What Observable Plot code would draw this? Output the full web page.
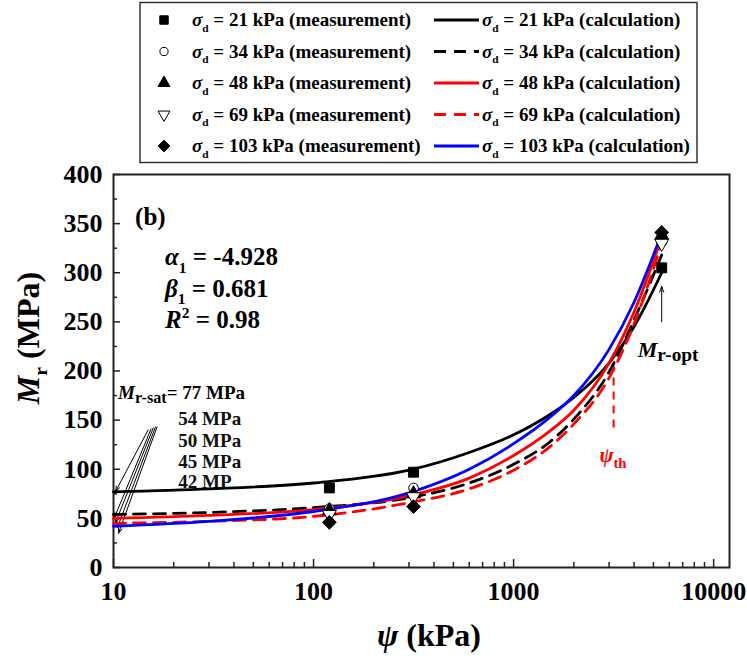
<!DOCTYPE html>
<html>
<head>
<meta charset="utf-8">
<script src="https://cdn.jsdelivr.net/npm/d3@7"></script>
<script src="https://cdn.jsdelivr.net/npm/@observablehq/plot@0.6"></script>
<style>
  html, body { margin: 0; padding: 0; background: #fff; }
  #wrap { position: relative; width: 747px; height: 659px; }
  #wrap svg { display: block; }
  #legend { position: absolute; left: 0; top: 0; pointer-events: none; }
</style>
</head>
<body>
<div id="wrap"></div>
<script>
// ---------- data ----------
const stressLabels = ["21", "34", "48", "69", "103"];

// calculation curves, read at these suction values (kPa)
const psiGrid = [10, 30, 100, 300, 600, 1000, 1500, 2000, 3000, 4000, 5500];
const calc21  = [77, 80, 86, 99, 117, 135, 155, 173, 208, 245, 300];
const calc34  = [54, 56, 61, 71, 86, 105, 127, 151, 199, 252, 318];
const calc48  = [50, 53, 59, 73, 91, 114, 138, 160, 208, 260, 336];
const calc69  = [45, 47, 52, 66, 80, 99, 122, 146, 193, 248, 330];
const calc103 = [42, 47, 57, 76, 100, 126, 152, 175, 222, 270, 340];

// measurements
const measPsi = [120, 316, 5500];
const meas21  = [81, 97, 305];
const meas34  = [60, 81, 331];
const meas48  = [58, 75, 338];
const meas69  = [54, 72, 330];
const meas103 = [46, 62, 341];

const satLabels = ["77 MPa", "54 MPa", "50 MPa", "45 MPa", "42 MP"];
const fitParams = ["-4.928", "0.681", "0.98"];

const xTicks = [10, 100, 1000, 10000];
const xMinor = [20,30,40,50,60,70,80,90,200,300,400,500,600,700,800,900,2000,3000,4000,5000,6000,7000,8000,9000];
const yTicks = [0, 50, 100, 150, 200, 250, 300, 350, 400];
const yMinor = [25, 75, 125, 175, 225, 275, 325, 375];

// ---------- styles ----------
const serif = "'Liberation Serif', 'Times New Roman', serif";
const styles = [
  {stroke: "#000000", dash: null,   symbol: "square",   fill: "#000", rotate: 0,   r: 5.6},
  {stroke: "#000000", dash: "12,8", symbol: "circle",   fill: "#fff", rotate: 0,   r: 4.8},
  {stroke: "#ff0000", dash: null,   symbol: "triangle", fill: "#000", rotate: 0,   r: 5.2},
  {stroke: "#ff0000", dash: "12,8", symbol: "triangle", fill: "#fff", rotate: 180, r: 5.2},
  {stroke: "#0000ff", dash: null,   symbol: "diamond2", fill: "#000", rotate: 0,   r: 6.2}
];

const calcSets = [calc21, calc34, calc48, calc69, calc103];
const measSets = [meas21, meas34, meas48, meas69, meas103];
const series = stressLabels.map((s, i) => ({
  stress: s,
  style: styles[i],
  calc: psiGrid.map((p, j) => ({psi: p, mr: calcSets[i][j]})),
  meas: measPsi.map((p, j) => ({psi: p, mr: measSets[i][j]}))
}));

// arrows to M_r-sat values (start/end in data units)
const satArrows = [
  {x1: 14.9, y1: 140, x2: 10.25, y2: 77.5},
  {x1: 15.4, y1: 141, x2: 10.12, y2: 51},
  {x1: 15.8, y1: 142, x2: 10.25, y2: 46},
  {x1: 16.2, y1: 143, x2: 10.47, y2: 41},
  {x1: 16.5, y1: 143, x2: 10.6,  y2: 35}
];

const marks = [];
marks.push(Plot.frame({stroke: "#222", strokeWidth: 2}));

// inward ticks
marks.push(Plot.tickX(xTicks, {x: d => d, insetTop: 393 - 8, stroke: "#222", strokeWidth: 1.5}));
marks.push(Plot.tickX(xMinor, {x: d => d, insetTop: 393 - 5, stroke: "#222", strokeWidth: 1.5}));
marks.push(Plot.tickY(yTicks, {y: d => d, insetRight: 616 - 7, stroke: "#222", strokeWidth: 1.5}));
marks.push(Plot.tickY(yMinor, {y: d => d, insetRight: 616 - 4, stroke: "#222", strokeWidth: 1.5}));

marks.push(Plot.axisX({ticks: xTicks, tickFormat: d => String(d), tickSize: 0, tickPadding: 14,
  fontSize: 26, fontWeight: "bold", fontFamily: serif, label: null}));
marks.push(Plot.axisY({ticks: yTicks, tickFormat: d => String(d), tickSize: 0, tickPadding: 11,
  fontSize: 26, fontWeight: "bold", fontFamily: serif, label: null}));

// M_r-sat secondary labels (under curves)
marks.push(Plot.text(satLabels.slice(1), {
  x: () => 21.1, y: (d, i) => [145, 122.5, 101, 80.6][i],
  text: d => d, textAnchor: "start", lineAnchor: "bottom",
  fontSize: 19, fontWeight: "bold", fontFamily: serif, fill: "#111"
}));

marks.push(Plot.arrow(satArrows, {x1: "x1", y1: "y1", x2: "x2", y2: "y2",
  stroke: "#000", strokeWidth: 1, headLength: 8, headAngle: 40}));

// psi_th marker
marks.push(Plot.ruleX([3162], {x: d => d, y1: 142, y2: 218, stroke: "#ff0000", strokeWidth: 2, strokeDasharray: "8,6"}));

// M_r-opt arrow
marks.push(Plot.arrow([{x: 5500, y1: 250, y2: 286}], {x1: "x", x2: "x", y1: "y1", y2: "y2",
  stroke: "#000", strokeWidth: 1, headLength: 9, headAngle: 40}));

// calculation curves
for (const s of series) {
  marks.push(Plot.line(s.calc, {x: "psi", y: "mr", curve: "monotone-x",
    stroke: s.style.stroke, strokeWidth: 2.8, strokeDasharray: s.style.dash || undefined}));
}
// measurements
for (const s of series) {
  marks.push(Plot.dot(s.meas, {x: "psi", y: "mr", symbol: s.style.symbol, r: s.style.r,
    fill: s.style.fill, stroke: "#000", strokeWidth: 1, rotate: s.style.rotate}));
}

const plot = Plot.plot({
  width: 747, height: 659,
  marginTop: 174, marginRight: 18, marginBottom: 92, marginLeft: 113,
  x: {type: "log", domain: [10, 12000]},
  y: {domain: [0, 400]},
  style: {fontFamily: serif, fontWeight: "bold", background: "#fff", color: "#000"},
  marks
});
document.getElementById("wrap").appendChild(plot);

// ---------- rich text helper ----------
function richText(parent, x, y, parts, {size, anchor = "start", fill = "#000", transform} = {}) {
  const t = parent.append("text")
    .attr("x", x).attr("y", y)
    .attr("font-family", serif).attr("font-weight", "bold")
    .attr("font-size", size).attr("fill", fill).attr("text-anchor", anchor);
  if (transform) t.attr("transform", transform);
  let shift = 0;
  for (const p of parts) {
    const target = p.sub ? size * (p.shift ?? 0.3) : p.sup ? -size * 0.4 : 0;
    const ts = t.append("tspan").text(p.t).attr("dy", target - shift);
    shift = target;
    if (p.italic) ts.attr("font-style", "italic");
    if (p.sub || p.sup) ts.attr("font-size", size * (p.scale ?? 0.62));
  }
  return t;
}

const sx = plot.scale("x"), sy = plot.scale("y");
const X = v => sx.apply(v), Y = v => sy.apply(v);
const svg = d3.select(plot);
const ann = svg.append("g");

// panel label and fit parameters
richText(ann, X(12.9), Y(348), [{t: "(b)"}], {size: 25});
richText(ann, X(18.2), Y(307), [{t: "α", italic: true}, {t: "1", sub: true}, {t: " = " + fitParams[0]}], {size: 25});
richText(ann, X(18.2), Y(275), [{t: "β", italic: true}, {t: "1", sub: true}, {t: " = " + fitParams[1]}], {size: 25});
richText(ann, X(18.2), Y(243), [{t: "R", italic: true}, {t: "2", sup: true}, {t: " = " + fitParams[2]}], {size: 25});

// M_r-sat first label
richText(ann, X(10.6), Y(171), [{t: "M", italic: true}, {t: "r-sat", sub: true, scale: 0.85, shift: 0.22}, {t: "= " + satLabels[0]}], {size: 19});

// M_r-opt label
richText(ann, X(4200), Y(214), [{t: "M", italic: true}, {t: "r-opt", sub: true, scale: 0.88, shift: 0.18}], {size: 22});

// psi_th label
richText(ann, X(2700), Y(107), [{t: "ψ", italic: true}, {t: "th", sub: true, scale: 0.7, shift: 0.3}], {size: 21, fill: "#ff0000"});

// axis titles
richText(ann, 429, 646, [{t: "ψ", italic: true}, {t: " (kPa)"}], {size: 32, anchor: "middle"});
richText(ann, 0, 0, [{t: "M", italic: true}, {t: "r", sub: true, scale: 0.62, shift: 0.25}, {t: " (MPa)"}],
  {size: 32, anchor: "middle", transform: "translate(39,338) rotate(-90)"});

// ---------- legend (overlay above plot) ----------
const leg = d3.select("#wrap").append("svg").attr("id", "legend").attr("width", 747).attr("height", 170);
leg.append("rect").attr("x", 140).attr("y", 2.5).attr("width", 557).attr("height", 160)
  .attr("fill", "#fff").attr("stroke", "#333").attr("stroke-width", 1.5);
const symbolTypes = {square: d3.symbolSquare, circle: d3.symbolCircle, triangle: d3.symbolTriangle, diamond2: d3.symbolDiamond2};
series.forEach((s, i) => {
  const cy = 20 + i * 31.5;
  const st = s.style;
  leg.append("path")
    .attr("d", d3.symbol(symbolTypes[st.symbol], Math.PI * (st.r * 0.85) ** 2)())
    .attr("transform", `translate(164,${cy}) rotate(${st.rotate})`)
    .attr("fill", st.fill).attr("stroke", "#000").attr("stroke-width", 1);
  richText(leg, 192, cy + 6, [{t: "σ", italic: true}, {t: "d", sub: true, scale: 0.6, shift: 0.3},
    {t: " = " + s.stress + " kPa (measurement)"}], {size: 19});
  leg.append("line").attr("x1", 434).attr("x2", 479).attr("y1", cy).attr("y2", cy)
    .attr("stroke", st.stroke).attr("stroke-width", 2.8).attr("stroke-dasharray", st.dash);
  richText(leg, 482, cy + 6, [{t: "σ", italic: true}, {t: "d", sub: true, scale: 0.6, shift: 0.3},
    {t: " = " + s.stress + " kPa (calculation)"}], {size: 19});
});
</script>
</body>
</html>
